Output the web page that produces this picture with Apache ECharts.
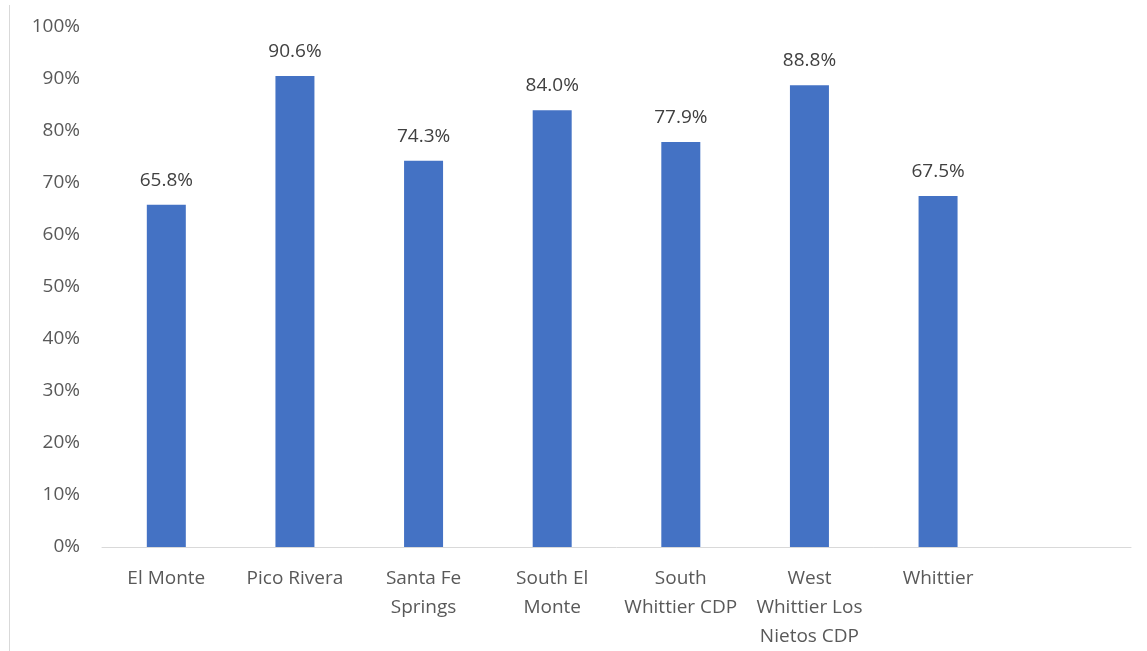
<!DOCTYPE html>
<html>
<head>
<meta charset="utf-8">
<script src="https://cdn.jsdelivr.net/npm/echarts@6/dist/echarts.min.js"></script>
<style>
  html, body { margin: 0; padding: 0; background: #fff; }
  #chart { width: 1147px; height: 651px; }
</style>
</head>
<body>
<div id="chart"></div>
<script>
// categories (last slot is empty in the original chart)
const categories = ['El Monte', 'Pico Rivera', 'Santa Fe\nSprings', 'South El\nMonte', 'South\nWhittier CDP', 'West\nWhittier Los\nNietos CDP', 'Whittier', ''];
const shares = [65.8, 90.6, 74.3, 84.0, 77.9, 88.8, 67.5, null];

const myChart = echarts.init(document.getElementById('chart'));
const textColor = '#595959';
const font = '"Open Sans", Lato, sans-serif';

const option = {
  animation: false,
  grid: { left: 102, right: 16, top: 27, bottom: 101, containLabel: false },
  graphic: [
    {
      type: 'line',
      shape: { x1: 9.5, y1: 5, x2: 9.5, y2: 651 },
      style: { stroke: '#d9d9d9', lineWidth: 1 }
    }
  ],
  xAxis: {
    type: 'category',
    data: categories,
    axisTick: { show: false },
    axisLine: { lineStyle: { color: '#d9d9d9', width: 1 } },
    axisLabel: {
      interval: 0,
      color: textColor,
      fontFamily: font,
      fontSize: 19,
      lineHeight: 29,
      margin: 17
    }
  },
  yAxis: {
    type: 'value',
    min: 0,
    max: 100,
    interval: 10,
    splitLine: { show: false },
    axisLine: { show: false },
    axisTick: { show: false },
    axisLabel: {
      color: textColor,
      fontFamily: font,
      fontSize: 19,
      margin: 22,
      formatter: v => v + '%'
    }
  },
  series: [
    {
      type: 'bar',
      data: shares,
      barWidth: 39,
      itemStyle: { color: '#4472C4' },
      label: {
        show: true,
        position: 'top',
        distance: 15,
        color: '#404040',
        fontFamily: font,
        fontSize: 19,
        formatter: p => p.value.toFixed(1) + '%'
      }
    }
  ]
};

option && myChart.setOption(option);
</script>
</body>
</html>
